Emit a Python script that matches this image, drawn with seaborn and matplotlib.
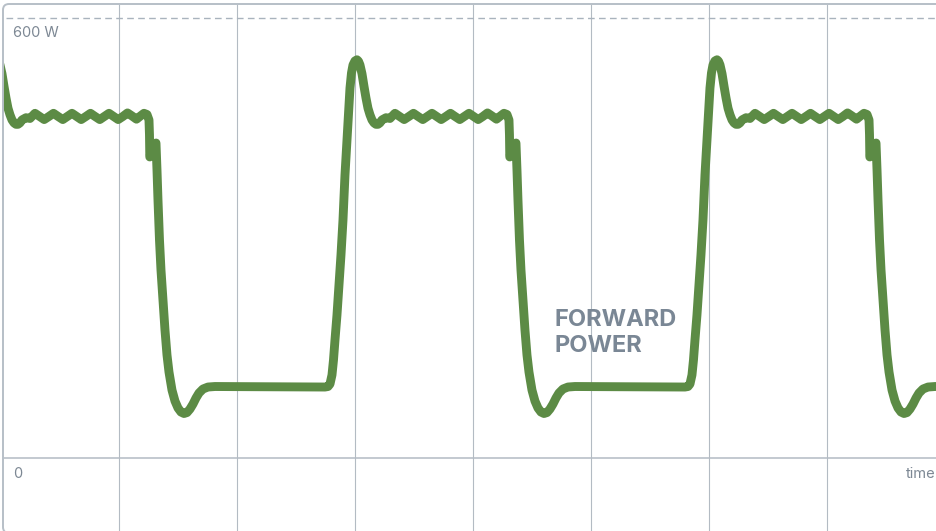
import numpy as np
import pandas as pd
import matplotlib.pyplot as plt
import seaborn as sns
from matplotlib.patches import FancyBboxPatch

# one power cycle: ms after the overshoot peak -> watts
cycle_ms = [0.0, 1.27, 2.54, 4.24, 5.93, 7.62, 9.32, 11.01, 12.71, 14.40,
            16.09, 17.79, 19.48, 21.18, 24.57, 27.95, 32.19, 36.09, 39.98, 43.96,
            47.86, 51.76, 55.74, 59.64, 63.53, 67.43, 71.33, 75.31, 79.20, 83.10,
            87.08, 90.98, 94.88, 98.77, 102.67, 106.65, 110.55, 114.36, 118.17, 121.56,
            124.52, 127.07, 128.76, 129.18, 129.44, 134.69, 135.54, 136.38, 137.65, 138.92,
            140.62, 142.31, 144.01, 145.70, 148.24, 150.78, 153.33, 155.87, 158.41, 160.95,
            163.49, 166.03, 168.57, 171.11, 174.50, 178.74, 184.67, 220.25, 254.13, 277.85,
            280.39, 282.08, 283.78, 285.05, 286.32, 288.01, 289.71, 291.40, 293.10, 294.79,
            296.49, 297.76, 299.03, 300.30, 301.57, 303.26]
cycle_w = [543, 541, 536, 524, 507, 491, 477, 468, 461, 457,
           455, 455, 457, 461, 464, 463, 470, 465.7, 461.5, 465.7,
           470, 465.7, 461.5, 465.7, 470, 465.7, 461.5, 465.7, 470, 465.7,
           461.5, 465.7, 470, 465.7, 461.5, 465.7, 470.5, 466.4, 462, 466.4,
           470, 468.4, 460.9, 440.5, 410.5, 429.5, 392.7, 351.8, 297.3, 256.4,
           215.5, 174.5, 140.5, 117.3, 92.7, 77.7, 68.2, 62.7, 60.7, 62.0,
           66.8, 73.6, 81.8, 88.6, 94.1, 96.8, 97.5, 97.2, 96.8, 96.8,
           97.5, 100.9, 113.2, 133.6, 160.9, 195.0, 235.9, 276.8, 324.5, 385.9,
           433.6, 471.8, 504.5, 525.0, 535.9, 541.4]
# time of each overshoot peak (ms)
peak_ms = [-3.35, 301.6, 606.6]

grid_ms = [100, 200, 300, 400, 500, 600, 700]
max_w = 600

time = np.concatenate([np.array(cycle_ms) + p for p in peak_ms])
power = np.tile(cycle_w, len(peak_ms))
df = pd.DataFrame({'time': time, 'power': power})

sns.set_style('white')
plt.rcParams['font.family'] = ['Inter', 'DejaVu Sans']

fig = plt.figure(figsize=(9.36, 5.31), dpi=100)
ax = fig.add_axes([0, 0, 1, 1])
ax.set_xlim(-0.8, 792.1)
ax.set_ylim(-99.5, 624.5)
ax.axis('off')

# rounded panel border
frame = FancyBboxPatch((0.03, -0.02), 9.5, 5.29,
                       boxstyle='round,pad=0,rounding_size=0.06',
                       transform=fig.dpi_scale_trans, facecolor='none',
                       edgecolor='#b7bfc7', linewidth=1.4, zorder=5)
fig.add_artist(frame)

grid_col = '#b3bbc3'
ax.vlines(grid_ms, -99.5, 619, color=grid_col, lw=0.8, zorder=1)
ax.hlines(0, 1.74, 792.1, color=grid_col, lw=1.1, zorder=1)
ax.hlines(max_w, 4, 792.1, color='#a9b3bd', lw=1.0,
          linestyles=(0, (4.8, 3.1)), zorder=1)

sns.lineplot(data=df, x='time', y='power', ax=ax, sort=False, estimator=None,
             color='#5c8b45', linewidth=6.4, zorder=3)
line = ax.lines[-1]
line.set_solid_capstyle('round')
line.set_solid_joinstyle('round')
line.set_clip_path(frame)

label_col = '#7d8894'
ax.text(10.2, 574, f'{max_w} W', color=label_col, fontsize=10.5, va='baseline')
ax.text(10.2, -27.3, '0', color=label_col, fontsize=10.5, va='baseline')
ax.text(766.8, -27.3, 'time', color=label_col, fontsize=10.6, va='baseline')
ax.text(469.3, 180, 'FORWARD', color='#7a8795', fontsize=17, fontweight='bold',
        va='baseline')
ax.text(469.3, 144.1, 'POWER', color='#7a8795', fontsize=17, fontweight='bold',
        va='baseline')

fig.savefig('out.png', dpi=100)
